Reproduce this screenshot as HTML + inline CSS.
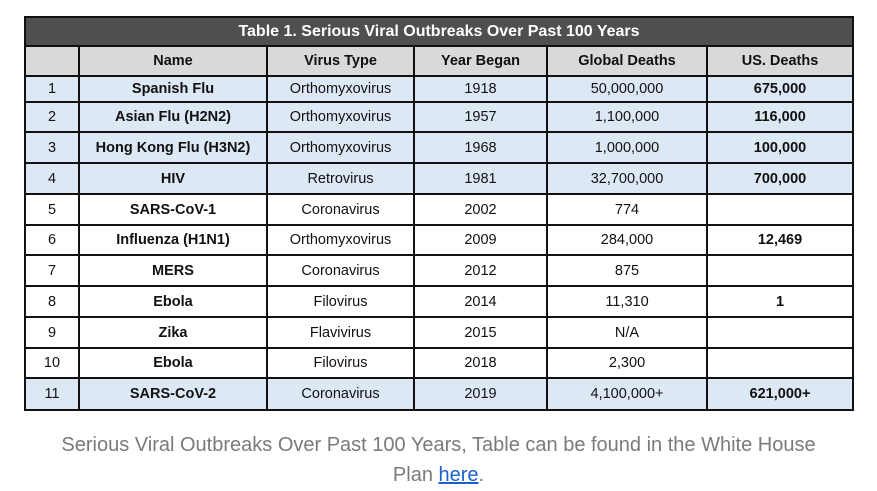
<!DOCTYPE html>
<html><head><meta charset="utf-8"><style>
body{margin:0;width:877px;height:491px;background:#fff;position:relative;overflow:hidden;font-family:"Liberation Sans",sans-serif}
table{position:absolute;left:24px;top:16px;width:828px;border-collapse:collapse;table-layout:fixed;font-size:14.5px;color:#111}
td,th{border:2px solid #111;text-align:center;padding:0;}
th{font-weight:bold}
.title{background:#4f4f4f;color:#fff;font-size:16px;font-weight:bold;height:27px}
.hdr th{background:#d9d9d9;height:28px}
.b{background:#dde8f5}
td.n{font-weight:bold}
.cap{position:absolute;left:0;width:877px;top:430px;text-align:center;color:#7a7a7a;font-size:20px;line-height:30px}
.cap a{color:#1a5fd0;text-decoration:underline}
</style></head><body>
<table>
<colgroup><col style="width:54px"><col style="width:188px"><col style="width:147px"><col style="width:133px"><col style="width:160px"><col style="width:146px"></colgroup>
<tr><th colspan="6" class="title">Table 1. Serious Viral Outbreaks Over Past 100 Years</th></tr>
<tr class="hdr"><th></th><th>Name</th><th>Virus Type</th><th>Year Began</th><th>Global Deaths</th><th>US. Deaths</th></tr>
<tr class="b" style="height:26px"><td>1</td><td class="n">Spanish Flu</td><td>Orthomyxovirus</td><td>1918</td><td>50,000,000</td><td class="n">675,000</td></tr>
<tr class="b" style="height:30px"><td>2</td><td class="n">Asian Flu (H2N2)</td><td>Orthomyxovirus</td><td>1957</td><td>1,100,000</td><td class="n">116,000</td></tr>
<tr class="b" style="height:31px"><td>3</td><td class="n">Hong Kong Flu (H3N2)</td><td>Orthomyxovirus</td><td>1968</td><td>1,000,000</td><td class="n">100,000</td></tr>
<tr class="b" style="height:31px"><td>4</td><td class="n">HIV</td><td>Retrovirus</td><td>1981</td><td>32,700,000</td><td class="n">700,000</td></tr>
<tr style="height:31px"><td>5</td><td class="n">SARS-CoV-1</td><td>Coronavirus</td><td>2002</td><td>774</td><td></td></tr>
<tr style="height:30px"><td>6</td><td class="n">Influenza (H1N1)</td><td>Orthomyxovirus</td><td>2009</td><td>284,000</td><td class="n">12,469</td></tr>
<tr style="height:31px"><td>7</td><td class="n">MERS</td><td>Coronavirus</td><td>2012</td><td>875</td><td></td></tr>
<tr style="height:31px"><td>8</td><td class="n">Ebola</td><td>Filovirus</td><td>2014</td><td>11,310</td><td class="n">1</td></tr>
<tr style="height:31px"><td>9</td><td class="n">Zika</td><td>Flavivirus</td><td>2015</td><td>N/A</td><td></td></tr>
<tr style="height:30px"><td>10</td><td class="n">Ebola</td><td>Filovirus</td><td>2018</td><td>2,300</td><td></td></tr>
<tr class="b" style="height:32px"><td>11</td><td class="n">SARS-CoV-2</td><td>Coronavirus</td><td>2019</td><td>4,100,000+</td><td class="n">621,000+</td></tr>
</table>
<div class="cap">Serious Viral Outbreaks Over Past 100 Years, Table can be found in the White House<br>Plan <a>here</a>.</div>
</body></html>
